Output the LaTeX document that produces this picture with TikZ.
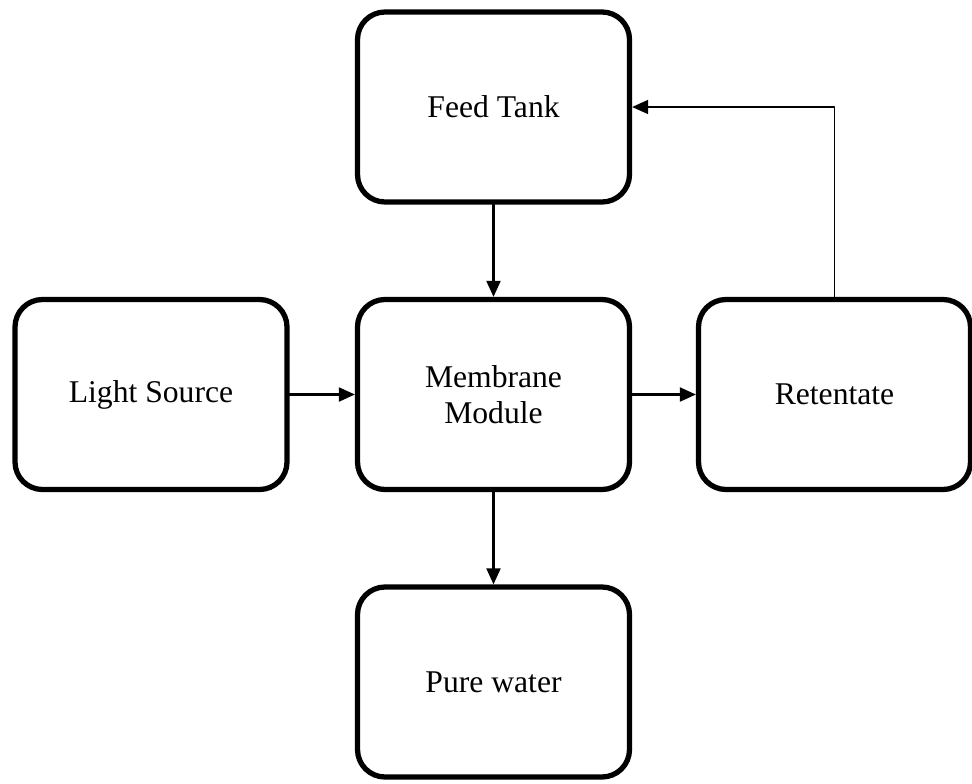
\documentclass[tikz,border=0pt]{standalone}
\usepackage{fontspec}
\setmainfont{Liberation Serif}
\usetikzlibrary{positioning,arrows.meta}

\begin{document}
\begin{tikzpicture}[line cap=round, line join=round, >={Triangle[length=0.32cm,width=0.28cm]},
  block/.style={draw, line width=3pt, rounded corners=0.55cm,
    minimum width=5.44cm, minimum height=3.8cm, align=center,
    font=\fontsize{18}{20.5}\selectfont},
  flow/.style={->, line width=1.2pt}]
  \useasboundingbox (0,0) rectangle (19.44,15.66);

  % blocks
  \node[block] (feed)  at (9.87,13.52) {Feed Tank};
  \node[block] (mem)   at (9.87,7.77)  {Membrane\\Module};
  \node[block] (light) at (3.02,7.77)  {Light Source};
  \node[block] (ret)   at (16.69,7.77) {Retentate};
  \node[block] (pure)  at (9.87,2.02)  {Pure water};

  % flows
  \draw[flow] (feed) -- (mem);
  \draw[flow] (light) -- (mem);
  \draw[flow] (mem) -- (ret);
  \draw[flow] (mem) -- (pure);
  \draw[flow, line width=0.9pt] (ret.north) |- (feed.east);
\end{tikzpicture}
\end{document}
